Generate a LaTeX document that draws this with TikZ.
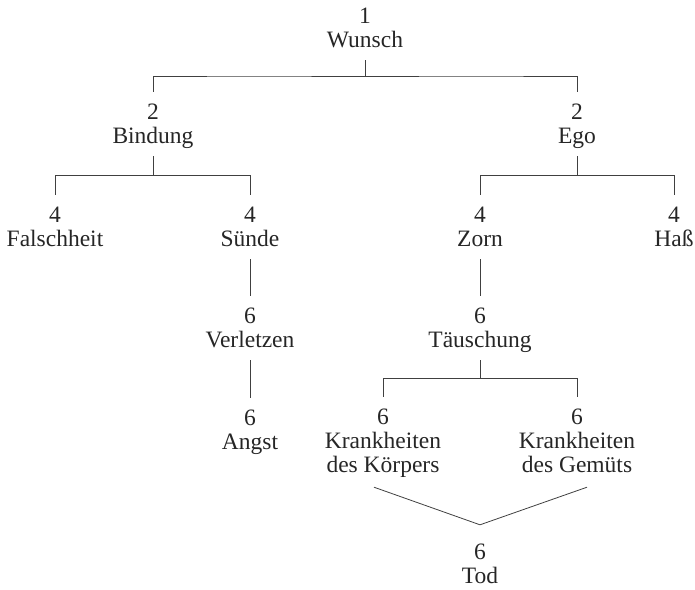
\documentclass[tikz,border=0pt]{standalone}
\usepackage{fontspec}
\setmainfont{Liberation Serif}
\usetikzlibrary{calc}
\newcommand{\tstr}{\rule{0pt}{23pt}}
\newcommand{\bstr}{\rule[-9pt]{0pt}{9pt}}
\tikzset{
  term/.style={anchor=base, align=center, inner xsep=2pt, inner ysep=4pt,
    font=\fontsize{23.5}{24}\selectfont, text=black!85},
  link/.style={draw=black!75, line width=0.8pt}
}
\begin{document}
\begin{tikzpicture}[x=1pt,y=-1pt]
\useasboundingbox (0,0) rectangle (695,589);
\node[term] (wunsch) at (365,47) {\tstr 1\\Wunsch\bstr};
\node[term] (bindung) at (153,143) {\tstr 2\\Bindung\bstr};
\node[term] (ego) at (577,143) {\tstr 2\\Ego\bstr};
\node[term] (falsch) at (55,246) {\tstr 4\\Falschheit\bstr};
\node[term] (suende) at (250,246) {\tstr 4\\Sünde\bstr};
\node[term] (zorn) at (480,246) {\tstr 4\\Zorn\bstr};
\node[term] (hass) at (674,246) {\tstr 4\\Haß\bstr};
\node[term] (verletzen) at (250,347) {\tstr 6\\Verletzen\bstr};
\node[term] (taeusch) at (480,347) {\tstr 6\\Täuschung\bstr};
\node[term] (angst) at (250,449) {\tstr 6\\Angst\bstr};
\node[term] (kkoerper) at (383,472) {\tstr 6\\Krankheiten\\des Körpers\bstr};
\node[term] (kgemuet) at (577,472) {\tstr 6\\Krankheiten\\des Gemüts\bstr};
\node[term] (tod) at (480,583) {\tstr 6\\Tod\bstr};

\foreach \p/\c in {wunsch/bindung, wunsch/ego, bindung/falsch, bindung/suende,
                   ego/zorn, ego/hass, taeusch/kkoerper, taeusch/kgemuet}
  \draw[link] (\p.south) |- ($(\p.south)!.5!(\c.north)$) -| (\c.north);
\draw[link] (suende.south) -- (verletzen.north);
\draw[link] (verletzen.south) -- (angst.north);
\draw[link] (zorn.south) -- (taeusch.north);
\draw[link] ([xshift=-9pt,yshift=-2pt]kkoerper.south) -- ([yshift=7pt]tod.north)
  -- ([xshift=10pt,yshift=-2pt]kgemuet.south);
\end{tikzpicture}
\end{document}
